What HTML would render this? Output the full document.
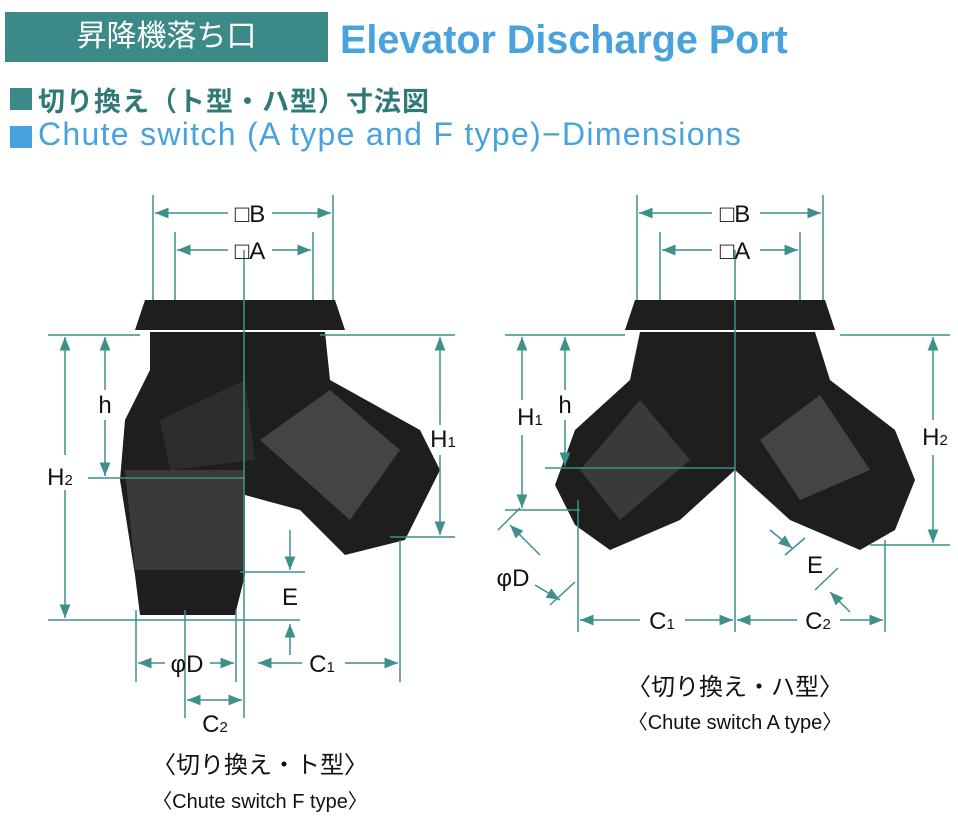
<!DOCTYPE html>
<html><head><meta charset="utf-8"><style>
html,body{margin:0;padding:0;background:#fff;}
body{width:958px;height:822px;position:relative;overflow:hidden;font-family:"Liberation Sans","Noto Sans CJK JP",sans-serif;}
.t{position:absolute;white-space:nowrap;}
</style></head><body>
<div class="t" style="left:5px;top:12px;width:323px;height:50px;background:#3b8a88;color:#fff;font-size:30px;line-height:50px;text-align:center;">昇降機落ち口</div>
<div class="t" style="left:340px;top:18px;font-size:39.5px;font-weight:bold;color:#48a3dc;">Elevator Discharge Port</div>
<div class="t" style="left:10px;top:88px;width:22px;height:22px;background:#3b8a88;"></div>
<div class="t" style="left:38px;top:80px;font-size:27px;color:#2f7a78;font-weight:bold;letter-spacing:1px;">切り換え（ト型・ハ型）寸法図</div>
<div class="t" style="left:10px;top:126px;width:22px;height:22px;background:#48a3dc;"></div>
<div class="t" style="left:38px;top:116px;font-size:32px;color:#48a3dc;letter-spacing:1.3px;">Chute switch (A type and F type)−Dimensions</div>

<svg width="958" height="822" style="position:absolute;left:0;top:0" xmlns="http://www.w3.org/2000/svg">
<defs><marker id="a" viewBox="0 0 10 10" refX="10" refY="5" markerWidth="9" markerHeight="9" orient="auto-start-reverse"><path d="M0,1L10,5L0,9z" fill="#3f8f8a"/></marker></defs>
<g fill="#1e1e1e">
<polygon points="135,330 145,300 335,300 345,330"/>
<path d="M150,332 L325,332 L330,380 L420,430 L440,470 L405,540 L345,555 L300,510 L245,495 L245,575 L235,615 L140,615 L135,575 L120,480 L125,420 L150,370 Z"/>
</g>
<polygon points="125,470 245,470 245,570 135,570" fill="#3a3a3a"/>
<polygon points="260,440 330,390 400,450 350,520" fill="#444"/>
<polygon points="160,420 245,380 255,460 170,470" fill="#2d2d2d"/>
<g fill="#1e1e1e">
<polygon points="625,330 635,300 825,300 835,330"/>
<path d="M640,332 L815,332 L830,380 L895,430 L915,480 L895,530 L860,550 L790,520 L735,470 L680,520 L610,550 L575,525 L555,485 L575,430 L630,380 Z"/>
</g>
<polygon points="580,470 640,400 690,460 620,520" fill="#3a3a3a"/>
<polygon points="760,440 820,395 870,470 800,500" fill="#444"/>
<g stroke="#3f8f8a" stroke-width="1.5" fill="none">
<line x1="153" y1="195" x2="153" y2="300"/><line x1="333" y1="195" x2="333" y2="300"/>
<line x1="175" y1="232" x2="175" y2="300"/><line x1="313" y1="232" x2="313" y2="300"/>
<line x1="155" y1="213" x2="228" y2="213" marker-start="url(#a)"/><line x1="272" y1="213" x2="331" y2="213" marker-end="url(#a)"/>
<line x1="177" y1="250" x2="228" y2="250" marker-start="url(#a)"/><line x1="272" y1="250" x2="311" y2="250" marker-end="url(#a)"/>
<line x1="244" y1="250" x2="244" y2="620"/>
<line x1="48" y1="335" x2="140" y2="335"/><line x1="48" y1="620" x2="300" y2="620"/>
<line x1="65" y1="337" x2="65" y2="455" marker-start="url(#a)"/><line x1="65" y1="490" x2="65" y2="618" marker-end="url(#a)"/>
<line x1="88" y1="478" x2="245" y2="478"/>
<line x1="105" y1="337" x2="105" y2="390" marker-start="url(#a)"/><line x1="105" y1="420" x2="105" y2="476" marker-end="url(#a)"/>
<line x1="320" y1="335" x2="455" y2="335"/><line x1="390" y1="537" x2="455" y2="537"/>
<line x1="440" y1="337" x2="440" y2="425" marker-start="url(#a)"/><line x1="440" y1="455" x2="440" y2="535" marker-end="url(#a)"/>
<line x1="240" y1="572" x2="305" y2="572"/>
<line x1="290" y1="530" x2="290" y2="570" marker-end="url(#a)"/><line x1="290" y1="655" x2="290" y2="624" marker-end="url(#a)"/>
<line x1="400" y1="540" x2="400" y2="682"/>
<line x1="258" y1="663" x2="302" y2="663" marker-start="url(#a)"/><line x1="345" y1="663" x2="398" y2="663" marker-end="url(#a)"/>
<line x1="136" y1="610" x2="136" y2="682"/><line x1="236" y1="610" x2="236" y2="682"/>
<line x1="138" y1="663" x2="165" y2="663" marker-start="url(#a)"/><line x1="210" y1="663" x2="234" y2="663" marker-end="url(#a)"/>
<line x1="185" y1="610" x2="185" y2="718"/><line x1="244" y1="620" x2="244" y2="718"/>
<line x1="187" y1="700" x2="242" y2="700" marker-start="url(#a)" marker-end="url(#a)"/>
<line x1="637" y1="195" x2="637" y2="300"/><line x1="823" y1="195" x2="823" y2="300"/>
<line x1="660" y1="232" x2="660" y2="300"/><line x1="800" y1="232" x2="800" y2="300"/>
<line x1="639" y1="213" x2="712" y2="213" marker-start="url(#a)"/><line x1="760" y1="213" x2="821" y2="213" marker-end="url(#a)"/>
<line x1="662" y1="250" x2="712" y2="250" marker-start="url(#a)"/><line x1="760" y1="250" x2="798" y2="250" marker-end="url(#a)"/>
<line x1="735" y1="250" x2="735" y2="632"/>
<line x1="505" y1="335" x2="625" y2="335"/><line x1="505" y1="510" x2="580" y2="510"/>
<line x1="522" y1="337" x2="522" y2="400" marker-start="url(#a)"/><line x1="522" y1="435" x2="522" y2="508" marker-end="url(#a)"/>
<line x1="545" y1="468" x2="735" y2="468"/>
<line x1="565" y1="337" x2="565" y2="390" marker-start="url(#a)"/><line x1="565" y1="420" x2="565" y2="466" marker-end="url(#a)"/>
<line x1="840" y1="335" x2="950" y2="335"/><line x1="870" y1="545" x2="950" y2="545"/>
<line x1="933" y1="337" x2="933" y2="420" marker-start="url(#a)"/><line x1="933" y1="455" x2="933" y2="543" marker-end="url(#a)"/>
<line x1="578" y1="500" x2="578" y2="632"/><line x1="885" y1="540" x2="885" y2="632"/>
<line x1="580" y1="620" x2="640" y2="620" marker-start="url(#a)"/><line x1="685" y1="620" x2="733" y2="620" marker-end="url(#a)"/>
<line x1="737" y1="620" x2="797" y2="620" marker-start="url(#a)"/><line x1="840" y1="620" x2="883" y2="620" marker-end="url(#a)"/>
<line x1="510" y1="525" x2="540" y2="555" marker-start="url(#a)"/>
<line x1="535" y1="585" x2="560" y2="600" marker-end="url(#a)"/>
<line x1="498" y1="530" x2="520" y2="508"/><line x1="550" y1="605" x2="575" y2="582"/>
<line x1="770" y1="530" x2="792" y2="548" marker-end="url(#a)"/>
<line x1="785" y1="555" x2="805" y2="538"/><line x1="815" y1="590" x2="838" y2="568"/>
<line x1="850" y1="612" x2="830" y2="592" marker-end="url(#a)"/>
</g>
<g font-family="Liberation Sans, sans-serif" font-size="24" fill="#111" text-anchor="middle">
<text x="250" y="222">□B</text><text x="250" y="259">□A</text>
<text x="735" y="222">□B</text><text x="735" y="259">□A</text>
<text x="60" y="485">H<tspan font-size="15">2</tspan></text>
<text x="105" y="413">h</text>
<text x="443" y="447">H<tspan font-size="15">1</tspan></text>
<text x="290" y="605">E</text>
<text x="322" y="672">C<tspan font-size="15">1</tspan></text>
<text x="187" y="672">φD</text>
<text x="215" y="732">C<tspan font-size="15">2</tspan></text>
<text x="530" y="425">H<tspan font-size="15">1</tspan></text>
<text x="565" y="413">h</text>
<text x="935" y="445">H<tspan font-size="15">2</tspan></text>
<text x="513" y="586">φD</text>
<text x="815" y="573">E</text>
<text x="662" y="629">C<tspan font-size="15">1</tspan></text>
<text x="818" y="629">C<tspan font-size="15">2</tspan></text>
</g>
</svg>
<div class="t" style="left:140px;top:745px;width:240px;text-align:center;font-size:24px;color:#111;">〈切り換え・ト型〉</div>
<div class="t" style="left:120px;top:785px;width:280px;text-align:center;font-size:20px;color:#111;">〈Chute switch F type〉</div>
<div class="t" style="left:615px;top:667px;width:240px;text-align:center;font-size:24px;color:#111;">〈切り換え・ハ型〉</div>
<div class="t" style="left:595px;top:706px;width:280px;text-align:center;font-size:20px;color:#111;">〈Chute switch A type〉</div>
</body></html>
